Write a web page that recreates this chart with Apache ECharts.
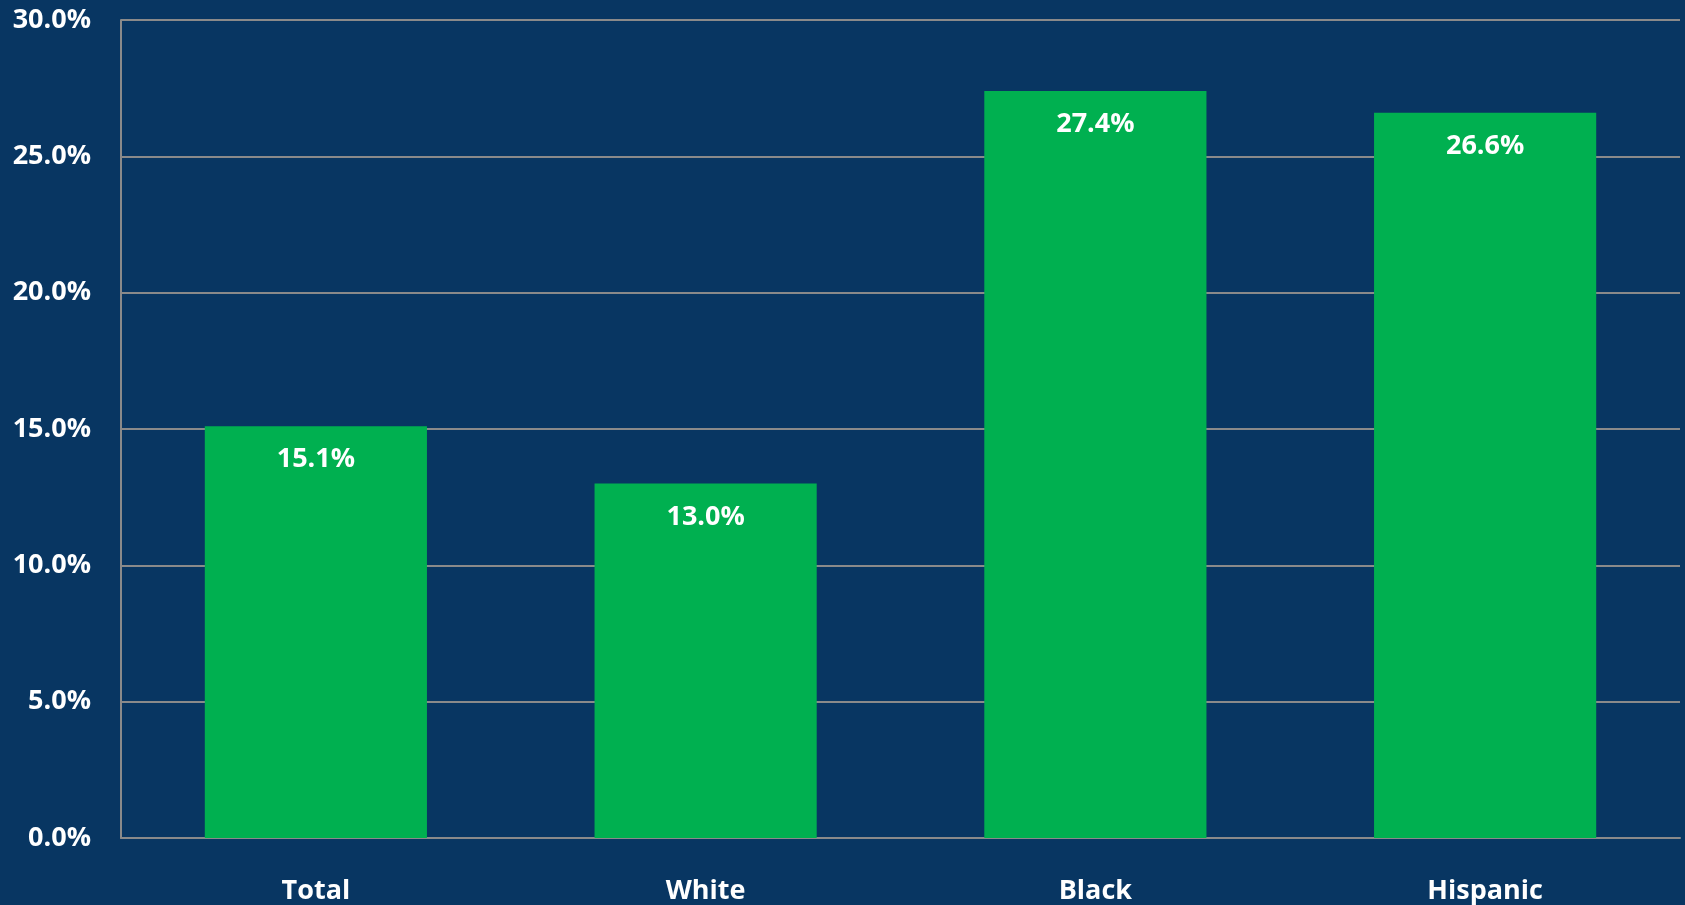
<!DOCTYPE html>
<html>
<head>
<meta charset="utf-8">
<script src="https://cdn.jsdelivr.net/npm/echarts@6/dist/echarts.min.js"></script>
<style>
  html, body { margin: 0; padding: 0; background: #083662; }
  #chart { width: 1685px; height: 905px; }
</style>
</head>
<body>
<div id="chart"></div>
<script>
const categories = ['Total', 'White', 'Black', 'Hispanic']
const values = [15.1, 13.0, 27.4, 26.6]

const font = '"Open Sans", "Noto Sans", sans-serif'
const chart = echarts.init(document.getElementById('chart'))

chart.setOption({
  backgroundColor: '#083662',
  animation: false,
  grid: {
    left: 121,
    right: 5,
    top: 20,
    bottom: 67
  },
  xAxis: {
    type: 'category',
    data: categories,
    axisLine: { lineStyle: { color: '#8a8a8a', width: 2 } },
    axisTick: { show: false },
    axisLabel: {
      color: '#ffffff',
      fontFamily: font,
      fontWeight: 'bold',
      fontSize: 27,
      margin: 40
    }
  },
  yAxis: {
    type: 'value',
    min: 0,
    max: 30,
    interval: 5,
    axisLine: { show: true, lineStyle: { color: '#8a8a8a', width: 2 } },
    axisTick: { show: false },
    splitLine: { lineStyle: { color: '#8a8a8a', width: 2 } },
    axisLabel: {
      color: '#ffffff',
      fontFamily: font,
      fontWeight: 'bold',
      fontSize: 27,
      margin: 30,
      padding: [4, 0, 0, 0],
      formatter: v => v.toFixed(1) + '%'
    }
  },
  series: [
    {
      type: 'bar',
      data: values,
      barWidth: '57%',
      itemStyle: { color: '#00b050' },
      label: {
        show: true,
        position: 'insideTop',
        distance: 20,
        color: '#ffffff',
        fontFamily: font,
        fontWeight: 'bold',
        fontSize: 27,
        formatter: p => p.value.toFixed(1) + '%'
      }
    }
  ]
})
</script>
</body>
</html>
